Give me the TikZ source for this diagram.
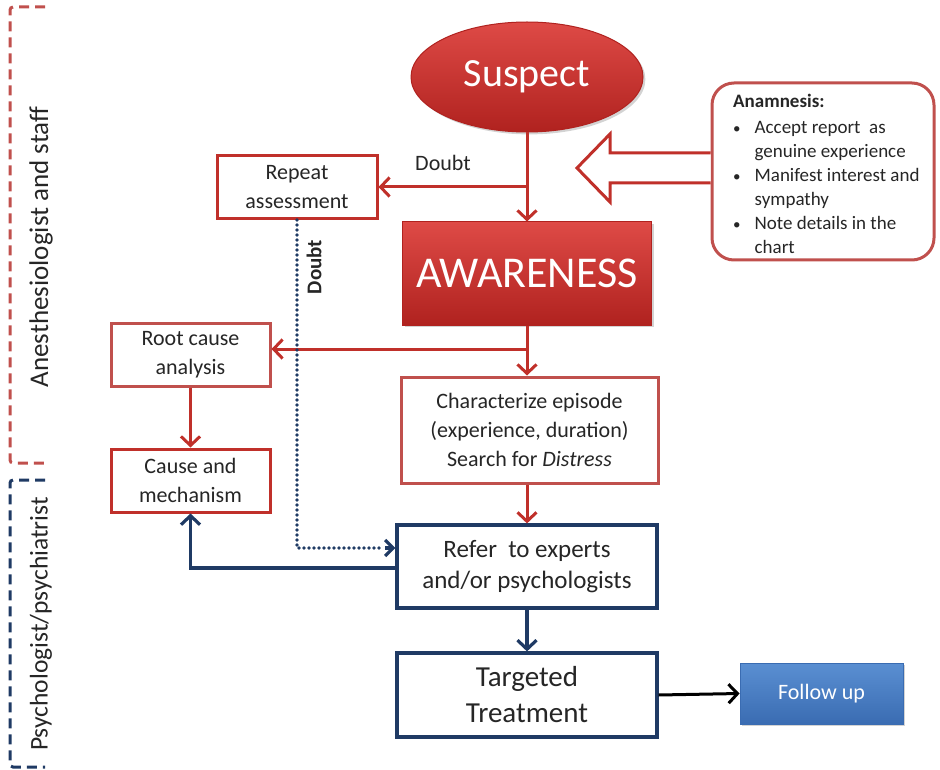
\documentclass[tikz,border=0pt]{standalone}
\usepackage{fontspec}
\setmainfont{Carlito}
\usetikzlibrary{arrows.meta,shadows,shapes.geometric,calc}
\definecolor{dred}{HTML}{C0302A}
\definecolor{lred}{HTML}{C0504D}
\definecolor{navy}{HTML}{1F3A64}
\definecolor{txt}{HTML}{262626}
\definecolor{redtop}{HTML}{DE4A46}
\definecolor{redbot}{HTML}{B0221F}
\definecolor{bluetop}{HTML}{5A8FD2}
\definecolor{bluebot}{HTML}{3A6CB2}
\newcommand{\mybul}{{\fontsize{15}{15}\selectfont\textbullet}}
\begin{document}
\begin{tikzpicture}[x=1pt,y=-1pt,
  redbox/.style={draw=dred, line width=3pt, fill=white, align=center, text=txt,
    font=\fontsize{22}{29}\selectfont, inner sep=0pt},
  lredbox/.style={redbox, draw=lred},
  bluebox/.style={draw=navy, line width=3.2pt, fill=white, align=center, text=txt, inner sep=0pt},
  redarrow/.style={draw=dred, line width=3pt, -{Straight Barb[length=9pt,width=19pt]}},
  bluearrow/.style={draw=navy, line width=3.2pt, -{Straight Barb[length=9pt,width=19pt]}},
  bracket/.style={dash pattern=on 10pt off 6pt, line width=3pt, rounded corners=3pt},
  sidelabel/.style={rotate=90, text=txt, font=\fontsize{27}{32}\selectfont},
]
\useasboundingbox (0,0) rectangle (940,770);

% side brackets
\draw[bracket, lred] (45,7) -- (10,7) -- (10,463) -- (45,463);
\draw[bracket, navy] (45,480) -- (10,480) -- (10,767) -- (45,767);
\node[sidelabel] (lab1) at (41,247) {Anesthesiologist and staff};
\node[sidelabel, font=\fontsize{25.5}{30}\selectfont] (lab2) at (41,624) {Psychologist/psychiatrist};

% main nodes
\node[ellipse, minimum width=232, minimum height=110, inner sep=0pt,
  draw=redbot, line width=1pt, top color=redtop, bottom color=redbot,
  drop shadow={opacity=0.35}, text=white, font=\fontsize{40}{44}\selectfont] (suspect) at (527,77) {Suspect};

\node[minimum width=249, minimum height=103, inner sep=0pt,
  draw=redbot, line width=1pt, top color=redtop, bottom color=redbot,
  drop shadow={opacity=0.35}, text=white, font=\fontsize{44}{48}\selectfont] (aware) at (527,273.5) {AWARENESS};

\node[redbox, minimum width=160, minimum height=63] (repeat) at (297,187) {Repeat\\assessment};
\node[lredbox, minimum width=159, minimum height=63] (root) at (190.5,354.5) {Root cause\\analysis};
\node[redbox, minimum width=159, minimum height=63] (cause) at (190.5,480.5) {Cause and\\mechanism};
\node[lredbox, minimum width=257, minimum height=106] (char) at (529.5,430)
  {Characterize episode\\(experience, duration)\\Search for \textit{Distress}};
\node[bluebox, minimum width=260, minimum height=83, font=\fontsize{25}{31}\selectfont] (refer) at (527,566.5)
  {Refer\ \ to experts\\and/or psychologists};
\node[bluebox, minimum width=260, minimum height=84, font=\fontsize{29}{36}\selectfont] (treat) at (527,695)
  {Targeted\\Treatment};
\node[minimum width=163, minimum height=61, inner sep=0pt, draw=bluebot, line width=0.8pt,
  top color=bluetop, bottom color=bluebot,
  drop shadow={opacity=0.35}, text=white, font=\fontsize{22}{26}\selectfont] (follow) at (821.5,693.5) {Follow up};

% anamnesis box
\node[draw=lred, line width=3pt, rounded corners=22pt, fill=white,
  minimum width=222, minimum height=177, inner sep=0pt] (anam) at (823,171.5) {};
\node[anchor=north west, inner sep=0pt, text=txt, font=\fontsize{19}{24}\selectfont] (anamtext) at (733,91)
  {\begin{tabular}{@{}l@{\hspace{14pt}}l@{}}
   \multicolumn{2}{@{}l}{\textbf{Anamnesis:}}\\[2pt]
   \mybul & Accept report\ \ as\\
          & genuine experience\\
   \mybul & Manifest interest and\\
          & sympathy\\
   \mybul & Note\ details in the\\
          & chart
   \end{tabular}};

% hollow arrow
\draw[draw=dred, line width=3pt, fill=white, line join=miter]
  (anam.west |- 0,153) -- (610,153) -- (610,134) -- (577,168) -- (610,202) -- (610,183) -- (anam.west |- 0,183);

% connectors
\draw[redarrow] (suspect.south) -- (aware.north);
\coordinate (d1) at (suspect.south |- repeat.east);
\draw[redarrow] (d1) -- (repeat.east);
\node[text=txt, font=\fontsize{22}{26}\selectfont] (doubt1) at (443,163) {Doubt};

\coordinate (d2) at (527,349);
\draw[redarrow] (d2) -- (d2 -| root.east);
\draw[redarrow] (aware.south) -- (d2 |- char.north);
\draw[redarrow] (root.south) -- (cause.north);
\draw[redarrow] (d2 |- char.south) -- (refer.north);

\draw[bluearrow] (refer.south) -- (treat.north);
\draw[bluearrow] ([yshift=-1.5pt]refer.west) -| (cause.south);
\draw[navy, line width=3.6pt, line cap=round, dash pattern=on 0pt off 5pt]
  (repeat.south) |- ([yshift=18.5pt,xshift=-12pt]refer.west);
\draw[navy, line width=3.2pt, -{Straight Barb[length=8pt,width=16pt]}]
  ([yshift=18.5pt,xshift=-10pt]refer.west) -- ([yshift=18.5pt]refer.west);
\node[rotate=90, text=txt, font=\bfseries\fontsize{21}{24}\selectfont] (doubt2) at (314,267) {Doubt};

\draw[line width=3pt, black, -{Straight Barb[length=9pt,width=19pt]}] (treat.east) -- (follow.west);
\end{tikzpicture}
\end{document}
